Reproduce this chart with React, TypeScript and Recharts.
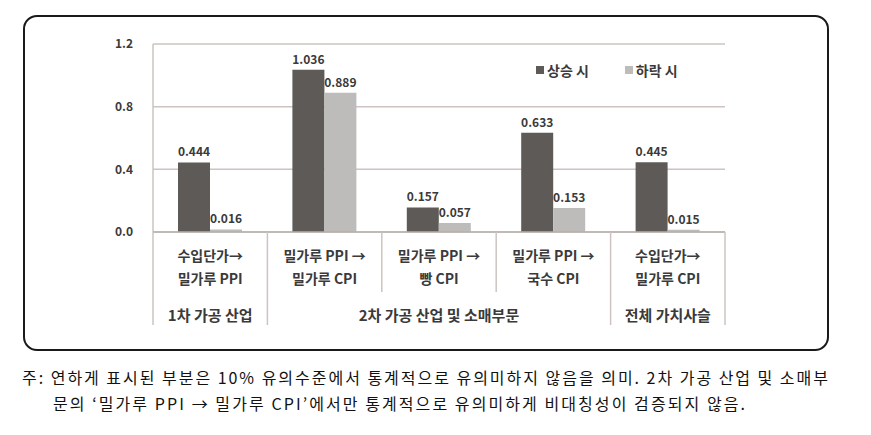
import React from 'react';
import { BarChart, Bar, XAxis, YAxis, CartesianGrid, LabelList } from 'recharts';

const categoryTop = ['수입단가→', '밀가루 PPI →', '밀가루 PPI →', '밀가루 PPI →', '수입단가→'];
const categoryBottom = ['밀가루 PPI', '밀가루 CPI', '빵 CPI', '국수 CPI', '밀가루 CPI'];
const riseValues = [0.444, 1.036, 0.157, 0.633, 0.445];
const fallValues = [0.016, 0.889, 0.057, 0.153, 0.015];
const groupLabels = ['1차 가공 산업', '2차 가공 산업 및 소매부문', '전체 가치사슬'];
const groupSpans = [1, 3, 1];
const yTicks = [0, 0.4, 0.8, 1.2];
const seriesNames = ['상승 시', '하락 시'];
const footnoteLines = [
  '주: 연하게 표시된 부분은 10% 유의수준에서 통계적으로 유의미하지 않음을 의미. 2차 가공 산업 및 소매부',
  '문의 ‘밀가루 PPI → 밀가루 CPI’에서만 통계적으로 유의미하게 비대칭성이 검증되지 않음.',
];

const data = categoryTop.map((top, i) => ({
  key: i,
  top,
  bottom: categoryBottom[i],
  rise: riseValues[i],
  fall: fallValues[i],
}));

// where each group starts
const groupStarts = groupSpans.map((_, g) => groupSpans.slice(0, g).reduce((a, b) => a + b, 0));

const W = 871;
const H = 435;
const PLOT_LEFT = 153;
const PLOT_RIGHT = 725;
const PLOT_TOP = 44;
const PLOT_BOTTOM = 232;
const BAND = (PLOT_RIGHT - PLOT_LEFT) / data.length;
const FONT = '"Noto Sans CJK KR", "Noto Sans", sans-serif';
const DARK = '#5e5a57';
const LIGHT = '#bdbcbb';
const GRID = '#cdc4c1';
const TEXT = '#3a3a3a';

const CategoryTick = (props: any) => {
  const { x, payload } = props;
  const i = payload.index;
  const half = BAND / 2;
  const y0 = PLOT_BOTTOM;
  const g = groupStarts.indexOf(i);
  return (
    <g>
      <line x1={x - half} x2={x - half} y1={y0} y2={g >= 0 ? 325 : 292} stroke={GRID} strokeWidth={1.5} />
      {i === data.length - 1 && (
        <line x1={x + half} x2={x + half} y1={y0} y2={325} stroke={GRID} strokeWidth={1.5} />
      )}
      <text x={x} y={y0 + 23} textAnchor="middle" dominantBaseline="central" fontSize={14} fontWeight={700} fill={TEXT} fontFamily={FONT}>
        {data[i].top}
      </text>
      <text x={x} y={y0 + 46} textAnchor="middle" dominantBaseline="central" fontSize={14} fontWeight={700} fill={TEXT} fontFamily={FONT}>
        {data[i].bottom}
      </text>
      {g >= 0 && (
        <text
          x={x + (groupSpans[g] - 1) * half}
          y={y0 + 82}
          textAnchor="middle"
          dominantBaseline="central"
          fontSize={15}
          fontWeight={700}
          fill={TEXT}
          fontFamily={FONT}
        >
          {groupLabels[g]}
        </text>
      )}
    </g>
  );
};

const valueLabel = { fontSize: 12, fontWeight: 700, fill: TEXT, fontFamily: FONT };

const App = () => (
  <div style={{ position: 'absolute', left: 0, top: 0, width: W, height: H, background: '#fff' }}>
    <div
      style={{
        position: 'absolute',
        left: 23,
        top: 15,
        width: 802,
        height: 332,
        border: '2px solid #1a1a1a',
        borderRadius: 14,
      }}
    />
    <div style={{ position: 'absolute', left: 0, top: 0 }}>
      <BarChart
        width={W}
        height={H}
        data={data}
        margin={{ top: PLOT_TOP, right: W - PLOT_RIGHT, left: 0, bottom: H - PLOT_BOTTOM - 100 }}
        barSize={32}
        barGap={0}
      >
        <CartesianGrid vertical={false} stroke={GRID} strokeWidth={1.5} />
        <YAxis
          width={PLOT_LEFT}
          domain={[0, 1.2]}
          ticks={yTicks}
          tickFormatter={(v: number) => v.toFixed(1)}
          tickLine={false}
          axisLine={{ stroke: GRID, strokeWidth: 1.5 }}
          tick={{ fontSize: 12, fontWeight: 700, fill: TEXT, fontFamily: FONT }}
          tickMargin={14}
        />
        <XAxis
          dataKey="key"
          height={100}
          tickLine={false}
          axisLine={{ stroke: '#b9b0ad', strokeWidth: 1.5 }}
          tick={<CategoryTick />}
          interval={0}
        />
        <Bar dataKey="rise" name={seriesNames[0]} fill={DARK} isAnimationActive={false}>
          <LabelList dataKey="rise" position="top" offset={6} formatter={(v: any) => Number(v).toFixed(3)} style={valueLabel} />
        </Bar>
        <Bar dataKey="fall" name={seriesNames[1]} fill={LIGHT} isAnimationActive={false}>
          <LabelList dataKey="fall" position="top" offset={6} formatter={(v: any) => Number(v).toFixed(3)} style={valueLabel} />
        </Bar>
      </BarChart>
    </div>
    <div
      style={{
        position: 'absolute',
        left: 536,
        top: 61,
        display: 'flex',
        gap: 36,
        fontFamily: FONT,
        fontSize: 14,
        fontWeight: 700,
        color: TEXT,
        lineHeight: '18px',
      }}
    >
      {seriesNames.map((n, i) => (
        <div key={n} style={{ display: 'flex', alignItems: 'center' }}>
          <span style={{ width: 8, height: 8, background: i === 0 ? DARK : LIGHT, marginRight: 3, display: 'inline-block' }} />
          {n}
        </div>
      ))}
    </div>
    <svg width={W} height={80} style={{ position: 'absolute', left: 0, top: 355 }}>
      <text x={22} y={22} dominantBaseline="central" fontSize={16} fill="#111" fontFamily={FONT} textLength={806} lengthAdjust="spacing">
        {footnoteLines[0]}
      </text>
      <text x={53} y={48} dominantBaseline="central" fontSize={16} fill="#111" fontFamily={FONT} textLength={692} lengthAdjust="spacing">
        {footnoteLines[1]}
      </text>
    </svg>
  </div>
);

export default App;
